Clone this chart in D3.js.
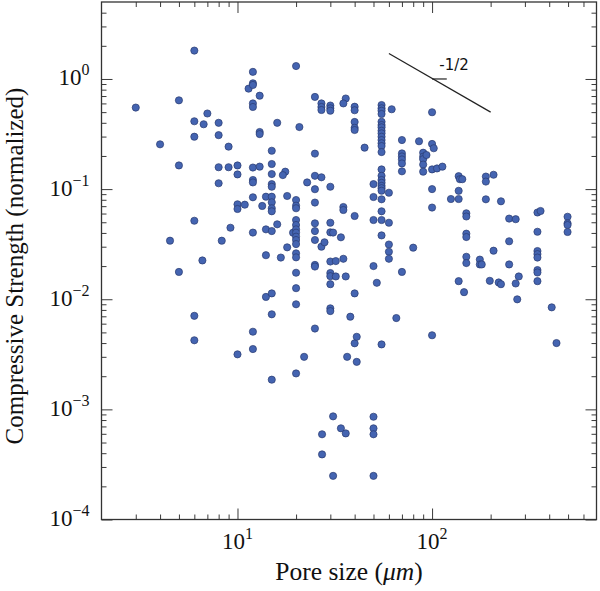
<!DOCTYPE html>
<html><head><meta charset="utf-8">
<script src="https://cdn.jsdelivr.net/npm/d3@7"></script>
<style>body{margin:0;background:#fff} svg{display:block}</style>
</head><body>
<svg id="chart" width="600" height="591"></svg>
<script>
// ---- data (pore size in µm, normalized compressive strength) ----
const poreSize = [
  3, 4, 4.5, 5, 5, 5,
  6, 6, 6, 6, 6, 6, 6.6, 6.7, 7,
  8, 8, 8, 8, 8.3, 9, 9, 9.2,
  10, 10, 10, 10, 10, 10.9, 11.4,
  12, 12, 12, 12, 12, 12, 12, 12, 12, 12, 12, 12,
  13, 13, 13, 13, 13.4, 14, 14, 14, 14,
  15, 15, 15, 15, 15, 15, 15, 15, 15, 15, 15, 15, 15,
  16, 16, 16.7, 17.6, 17.1, 18, 18, 19.3,
  20, 20, 20, 20, 20, 20, 20, 20, 20, 20, 20, 20, 20, 20, 20, 20, 20,
  20.8, 22, 22.8,
  25, 25, 25, 25, 25, 25, 25, 25, 25, 25, 25,
  27, 27, 27, 27, 27, 27.2, 27.2, 28,
  30, 30, 30, 30, 30, 30, 30, 30, 30, 30, 30, 30,
  31, 31, 31, 32, 32, 34, 34,
  36, 35, 35, 35, 35, 36, 36, 36.6, 38,
  40, 40, 40, 40, 40, 40, 40, 40, 41, 41, 45,
  50, 50, 50, 50, 50, 50, 50, 50, 52,
  55, 55, 55, 55, 55, 55, 55, 55, 55, 55, 55, 55, 55,
  55, 55, 55, 55, 55, 55, 55, 55, 55, 55, 55, 55, 55,
  60, 60, 60, 60, 60, 62, 65.5,
  70, 70, 70, 70, 70, 70, 70, 80, 85.7,
  90, 90, 90, 90, 90, 93.6,
  100, 100, 100, 100, 100, 100, 102, 106, 113, 125,
  137, 137, 137, 137, 139, 143, 146,
  150, 150, 150, 150, 150, 150,
  176, 176, 180, 189, 189, 189, 198, 207, 207,
  220, 226, 226, 249, 249, 249, 269, 269, 274, 279,
  348, 348, 348, 348, 348, 348, 348, 348, 361,
  412, 436, 497, 497, 497, 497
];
const strength = [
  0.55, 0.255, 0.034, 0.64, 0.164, 0.0177,
  1.81, 0.413, 0.299, 0.0516, 0.00707, 0.00424, 0.0225, 0.388, 0.486,
  0.40, 0.309, 0.158, 0.113, 0.034, 0.243, 0.158, 0.0446,
  0.164, 0.136, 0.0728, 0.066, 0.00316, 0.0722, 0.817,
  1.16, 0.914, 0.882, 0.60, 0.557, 0.157, 0.121, 0.115, 0.0843, 0.0403, 0.00507, 0.00353,
  0.705, 0.33, 0.316, 0.16, 0.0703, 0.0853, 0.0431, 0.0251, 0.0105,
  0.223, 0.169, 0.137, 0.111, 0.105, 0.0853, 0.0759, 0.067, 0.0629, 0.0416, 0.0113, 0.0073, 0.00186,
  0.40, 0.0479, 0.0239, 0.144, 0.134, 0.0866, 0.0296, 0.0402,
  1.31, 0.0796, 0.0707, 0.067, 0.0524, 0.0472, 0.0431, 0.0402, 0.037, 0.0345, 0.0317, 0.0261, 0.024, 0.0174, 0.0126, 0.009, 0.00212,
  0.366, 0.003, 0.115,
  0.687, 0.21, 0.132, 0.0998, 0.0755, 0.0489, 0.0416, 0.0345, 0.0205, 0.0198, 0.00542,
  0.60, 0.557, 0.523, 0.128, 0.030, 0.000594, 0.00039, 0.0329,
  0.574, 0.542, 0.515, 0.105, 0.0495, 0.0405, 0.022, 0.0173, 0.0162, 0.0137, 0.00827, 0.00781,
  0.0403, 0.000864, 0.000249, 0.0222, 0.0161, 0.0365, 0.000673,
  0.665, 0.60, 0.0688, 0.0646, 0.0233, 0.0161, 0.000605, 0.003, 0.00694,
  0.56, 0.52, 0.407, 0.36, 0.344, 0.057, 0.0113, 0.00398, 0.00456, 0.0027, 0.238,
  0.111, 0.0848, 0.0524, 0.02, 0.000857, 0.000673, 0.000594, 0.000249, 0.0141,
  0.58, 0.542, 0.515, 0.481, 0.409, 0.382, 0.364, 0.339, 0.321, 0.299, 0.279, 0.261, 0.246,
  0.217, 0.151, 0.132, 0.121, 0.114, 0.107, 0.102, 0.0967, 0.0808, 0.0629, 0.0524, 0.038, 0.00389,
  0.0927, 0.0495, 0.0314, 0.027, 0.0233, 0.531, 0.00675,
  0.279, 0.211, 0.198, 0.186, 0.171, 0.145, 0.0177, 0.0294, 0.272,
  0.214, 0.197, 0.187, 0.167, 0.144, 0.204,
  0.499, 0.257, 0.151, 0.100, 0.068, 0.00471, 0.235, 0.154, 0.160, 0.0813,
  0.131, 0.0965, 0.0813, 0.0146, 0.123, 0.123, 0.0116,
  0.0603, 0.0564, 0.0394, 0.0367, 0.0243, 0.0213,
  0.0229, 0.0207, 0.0207, 0.130, 0.117, 0.0808, 0.0147, 0.135, 0.0276,
  0.0142, 0.0775, 0.0137, 0.054, 0.0336, 0.0207, 0.0533, 0.0139, 0.00998, 0.0161,
  0.0613, 0.041, 0.0274, 0.0257, 0.0239, 0.0184, 0.0175, 0.0146, 0.0633,
  0.00844, 0.004, 0.0561, 0.0489, 0.0472, 0.0408
];
const xDomain = [2, 700];
const yDomain = [1e-4, 5];
const xMajorTicks = [10, 100];
const xTickExponents = ["1", "2"];
const yMajorTicks = [1e-4, 1e-3, 1e-2, 1e-1, 1];
const yTickExponents = ["\u22124", "\u22123", "\u22122", "\u22121", "0"];
const slopeX = [60, 200];
const slopeY = [1.7, 0.5];
const slopeMarkX = [100, 119];
const slopeMarkY = [1, 1];
const slopeLabel = "-1/2";
const xLabel = "Pore size (";
const xLabelUnit = "\u03bcm";
const yLabel = "Compressive Strength (normalized)";

if (poreSize.length !== strength.length) console.error("length mismatch", poreSize.length, strength.length);

// ---- layout ----
const W = 600, H = 591;
const margin = {left: 101.5, top: 2, right: 3.5, bottom: 71.5};
const w = W - margin.left - margin.right;
const h = H - margin.top - margin.bottom;
const svg = d3.select("#chart");
const g = svg.append("g").attr("transform", `translate(${margin.left},${margin.top})`);

const x = d3.scaleLog().domain(xDomain).range([0, w]);
const y = d3.scaleLog().domain(yDomain).range([h, 0]);

function minorTicks(domain) {
  const out = [];
  const e0 = Math.floor(Math.log10(domain[0])), e1 = Math.ceil(Math.log10(domain[1]));
  for (let e = e0; e <= e1; e++) for (let m = 2; m <= 9; m++) {
    const v = m * Math.pow(10, e);
    if (v > domain[0] * 1.001 && v < domain[1] * 0.999) out.push(v);
  }
  return out;
}
const xMinor = minorTicks(xDomain);
const yMinor = minorTicks(yDomain);

const tickColor = "#3a3a3a";
const MAJ = 11, MIN = 5;
function styleAxis(sel) {
  sel.select(".domain").remove();
  sel.selectAll("line").attr("stroke", tickColor).attr("stroke-width", 1);
  sel.selectAll("text").remove();
}
const axes = [
  [d3.axisBottom, `translate(0,${h})`, x, xMajorTicks, xMinor],
  [d3.axisTop, `translate(0,0)`, x, xMajorTicks, xMinor],
  [d3.axisLeft, `translate(0,0)`, y, yMajorTicks, yMinor],
  [d3.axisRight, `translate(${w},0)`, y, yMajorTicks, yMinor]
];
axes.forEach(([fn, tr, sc, maj, mn]) => {
  g.append("g").attr("transform", tr)
    .call(fn(sc).tickValues(mn).tickSize(-MIN).tickSizeOuter(0).tickFormat(""))
    .call(styleAxis);
  g.append("g").attr("transform", tr)
    .call(fn(sc).tickValues(maj).tickSize(-MAJ).tickSizeOuter(0).tickFormat(""))
    .call(styleAxis);
});

// frame
g.append("rect").attr("x", 0).attr("y", 0).attr("width", w).attr("height", h)
  .attr("fill", "none").attr("stroke", "#333").attr("stroke-width", 1.3);

const serif = "'Liberation Serif', 'Times New Roman', serif";

// x tick labels
xMajorTicks.forEach((v, i) => {
  const t = g.append("text").attr("x", x(v)).attr("y", h + 29)
    .attr("text-anchor", "middle").attr("font-family", serif).attr("font-size", 23).attr("fill", "#111");
  t.append("tspan").text("10");
  t.append("tspan").attr("dy", -10).attr("font-size", 16).text(xTickExponents[i]);
});
// y tick labels
yMajorTicks.forEach((v, i) => {
  const t = g.append("text").attr("x", -12).attr("y", y(v) + 6.5)
    .attr("text-anchor", "end").attr("font-family", serif).attr("font-size", 23).attr("fill", "#111");
  t.append("tspan").text("10");
  t.append("tspan").attr("dy", -10).attr("font-size", 16).text(yTickExponents[i]);
});

// axis titles
const xt = svg.append("text").attr("x", margin.left + w / 2).attr("y", 580)
  .attr("text-anchor", "middle").attr("font-family", serif).attr("font-size", 25.5).attr("fill", "#111");
xt.append("tspan").text(xLabel);
xt.append("tspan").attr("font-style", "italic").text(xLabelUnit);
xt.append("tspan").text(")");

svg.append("text").attr("transform", `translate(23,${266}) rotate(-90)`)
  .attr("text-anchor", "middle").attr("font-family", serif).attr("font-size", 25).attr("fill", "#111")
  .text(yLabel);

// slope annotation
const line = d3.line().x(d => x(d[0])).y(d => y(d[1]));
g.append("path").attr("d", line(d3.zip(slopeX, slopeY)))
  .attr("fill", "none").attr("stroke", "#222").attr("stroke-width", 1.2);
g.append("path").attr("d", line(d3.zip(slopeMarkX, slopeMarkY)))
  .attr("fill", "none").attr("stroke", "#222").attr("stroke-width", 1.2);
g.append("text").attr("x", x(109)).attr("y", y(1) - 8.5)
  .attr("font-family", "'DejaVu Sans', sans-serif").attr("font-size", 15).attr("fill", "#111")
  .text(slopeLabel);

// points
g.append("g").selectAll("circle").data(d3.range(poreSize.length)).join("circle")
  .attr("cx", i => x(poreSize[i]))
  .attr("cy", i => y(strength[i]))
  .attr("r", 3.6)
  .attr("fill", "#4464b1")
  .attr("stroke", "#2a3b70")
  .attr("stroke-width", 0.7);
</script>
</body></html>
